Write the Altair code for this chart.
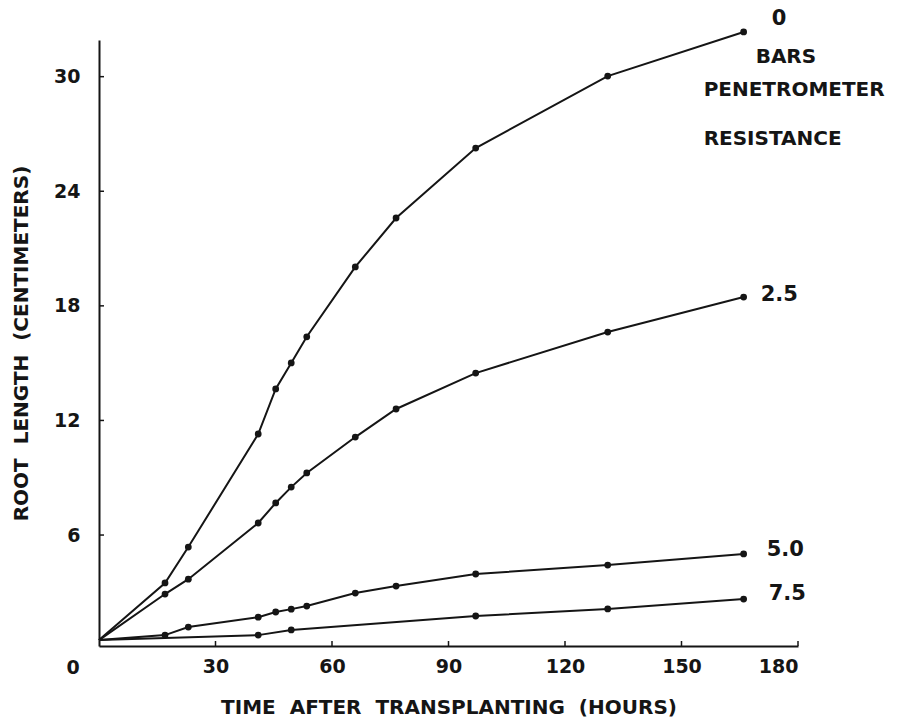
import altair as alt
import pandas as pd

# Sampling times (hours after transplanting) and root lengths (cm)
hours_main = [0, 17, 23, 41, 45.5, 49.5, 53.5, 66, 76.5, 97, 131, 166]
length_0 = [0.5, 3.49, 5.37, 11.29, 13.65, 15.01, 16.38, 20.04, 22.60, 26.26, 30.03, 32.34]
length_25 = [0.5, 2.91, 3.69, 6.63, 7.68, 8.51, 9.25, 11.13, 12.60, 14.48, 16.63, 18.46]
length_50 = [0.5, 0.76, 1.18, 1.70, 1.97, 2.12, 2.28, 2.96, 3.33, 3.96, 4.43, 5.01]
hours_75 = [0, 41, 49.5, 97, 131, 166]
length_75 = [0.5, 0.76, 1.03, 1.76, 2.13, 2.65]

resistance = ["0", "2.5", "5.0", "7.5"]
x_ticks = [30, 60, 90, 120, 150, 180]
y_ticks = [6, 12, 18, 24, 30]

INK = "#151515"
FONT = "DejaVu Sans"
GAP = "\u00a0\u00a0"  # wide word gap that SVG does not collapse

series = [
    (resistance[0], hours_main, length_0),
    (resistance[1], hours_main, length_25),
    (resistance[2], hours_main, length_50),
    (resistance[3], hours_75, length_75),
]
rows = []
for name, hrs, lens in series:
    for h, v in zip(hrs, lens):
        rows.append({"bars": name, "hours": h, "length": v})
df = pd.DataFrame(rows)

x_enc = alt.X(
    "hours:Q",
    scale=alt.Scale(domain=[0, 180], nice=False, zero=False),
    axis=alt.Axis(
        values=x_ticks, ticks=False, grid=False, labelPadding=11,
        labelFontSize=19,
        title=GAP.join(["TIME", "AFTER", "TRANSPLANTING", "(HOURS)"]),
        titleFontSize=20, titlePadding=21,
    ),
)
y_enc = alt.Y(
    "length:Q",
    scale=alt.Scale(domain=[0.19, 31.92], nice=False, zero=False),
    axis=alt.Axis(
        values=y_ticks, ticks=False, grid=False, labelPadding=19,
        labelFontSize=19,
        title=GAP.join(["ROOT", "LENGTH", "(CENTIMETERS)"]),
        titleFontSize=20, titlePadding=22,
    ),
)

lines = alt.Chart(df).mark_line(color=INK, strokeWidth=2).encode(
    x=x_enc, y=y_enc, detail="bars:N"
)
dots = alt.Chart(df[df["hours"] > 0]).mark_circle(color=INK, size=46, opacity=1).encode(
    x="hours:Q", y="length:Q"
)

# inward tick marks on both axes
y_tick_marks = alt.Chart(pd.DataFrame({"length": y_ticks})).mark_rule(
    color=INK, strokeWidth=1.5
).encode(y="length:Q", x=alt.value(0), x2=alt.value(5))
x_tick_marks = alt.Chart(pd.DataFrame({"hours": x_ticks})).mark_rule(
    color=INK, strokeWidth=1.5
).encode(x="hours:Q", y=alt.value(606), y2=alt.value(601))

# shared origin label
origin = alt.Chart(pd.DataFrame({"hours": [0], "length": [0.19], "label": ["0"]})).mark_text(
    font=FONT, fontSize=19, fontWeight="bold", color=INK, dx=-26, dy=22
).encode(x="hours:Q", y="length:Q", text="label:N")

# series labels at the end of each curve
label_offsets = {"0": (28, -13), "2.5": (17, -2), "5.0": (23, -4), "7.5": (25, -5)}
ends = df.groupby("bars", as_index=False).last()
labels = []
for name in resistance:
    dx, dy = label_offsets[name]
    end = ends[ends["bars"] == name].assign(label=name)
    labels.append(
        alt.Chart(end).mark_text(
            font=FONT, fontSize=21, fontWeight="bold", color=INK,
            align="left", baseline="middle", dx=dx, dy=dy,
        ).encode(x="hours:Q", y="length:Q", text="label:N")
    )

# caption under the top curve's label
caption_lines = [("BARS", 12, 25), ("PENETROMETER", -40, 58), ("RESISTANCE", -40, 107)]
top_end = ends[ends["bars"] == "0"]
for text, dx, dy in caption_lines:
    labels.append(
        alt.Chart(top_end.assign(label=text)).mark_text(
            font=FONT, fontSize=20, fontWeight="bold", color=INK,
            align="left", baseline="middle", dx=dx, dy=dy,
        ).encode(x="hours:Q", y="length:Q", text="label:N")
    )

chart = alt.layer(lines, dots, y_tick_marks, x_tick_marks, origin, *labels).properties(
    width=699,
    height=606,
    autosize=alt.AutoSizeParams(type="none"),
    padding={"left": 99, "top": 40, "right": 108, "bottom": 73},
    background="white",
).configure_view(stroke=None).configure_axis(
    domainColor=INK, domainWidth=2, labelColor=INK, titleColor=INK,
    labelFont=FONT, titleFont=FONT, labelFontWeight="bold", titleFontWeight="bold",
)

chart.save("out.html", embed_options={"renderer": "svg", "actions": False})
